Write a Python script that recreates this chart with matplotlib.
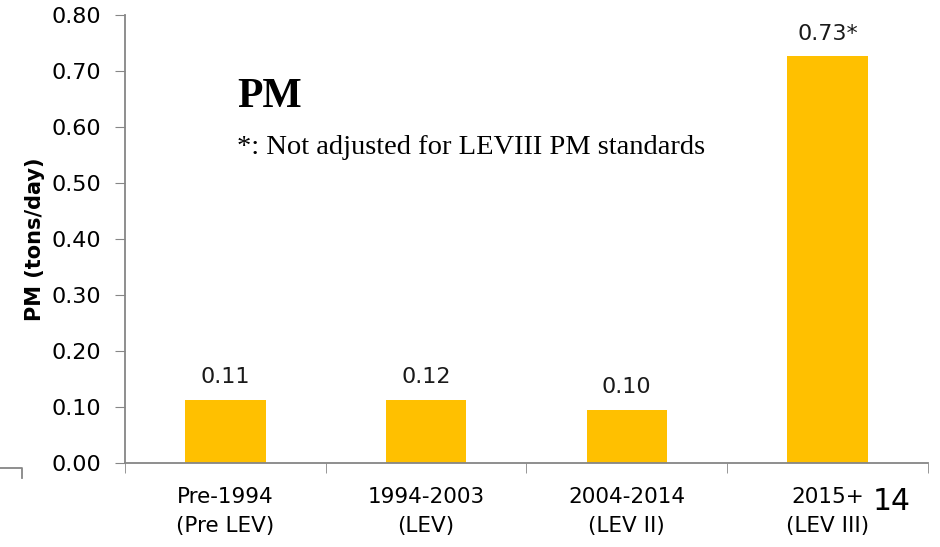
import matplotlib
matplotlib.use("Agg")
import matplotlib.pyplot as plt
from matplotlib.lines import Line2D

categories = ["Pre-1994\n(Pre LEV)", "1994-2003\n(LEV)", "2004-2014\n(LEV II)", "2015+\n(LEV III)"]
values = [0.113, 0.113, 0.095, 0.726]
value_labels = ["0.11", "0.12", "0.10", "0.73*"]
yticks = [0.0, 0.1, 0.2, 0.3, 0.4, 0.5, 0.6, 0.7, 0.8]

plt.rcParams["font.family"] = ["DejaVu Sans"]
gray = "#868686"

fig = plt.figure(figsize=(9.4, 5.47), dpi=100)
ax = fig.add_axes([0.133, 0.1536, 0.854, 0.819])

x = list(range(len(categories)))
ax.bar(x, values, width=0.4, color="#FFC000")

for xi, v, lab in zip(x, values, value_labels):
    ax.annotate(lab, (xi, v), xytext=(0, 9), textcoords="offset points",
                ha="center", va="bottom", fontsize=16, color="#1a1a1a")

ax.set_xlim(-0.5, len(categories) - 0.5)
ax.set_ylim(0, 0.8)
ax.set_yticks(yticks)
ax.set_yticklabels([f"{t:.2f}" for t in yticks], fontsize=16)
ax.set_xticks(x)
ax.set_xticklabels(categories, fontsize=15.5, linespacing=1.6)
ax.tick_params(axis="x", length=0, pad=17)
ax.set_xticks([i - 0.5 for i in range(len(categories) + 1)], minor=True)
ax.tick_params(axis="x", which="minor", length=7, color=gray, direction="out")
ax.tick_params(axis="y", length=7, color=gray, direction="out", pad=10)

for s in ["top", "right"]:
    ax.spines[s].set_visible(False)
for s in ["left", "bottom"]:
    ax.spines[s].set_color(gray)
    ax.spines[s].set_linewidth(1.3)

ax.set_ylabel("PM (tons/day)", fontsize=15, fontweight="bold", labelpad=5)

fig.text(0.252, 0.805, "PM", fontsize=30, fontweight="bold",
         family="Liberation Serif", va="baseline")
fig.text(0.252, 0.718, "*: Not adjusted for LEVIII PM standards", fontsize=20.5,
         family="Liberation Serif", va="baseline")
fig.text(0.949, 0.084, "14", fontsize=21.5, ha="center", va="center")

# leftover slide element at bottom left
fig.add_artist(Line2D([0.0, 0.023, 0.023], [1 - 468 / 547, 1 - 468 / 547, 1 - 478 / 547],
                      transform=fig.transFigure, color=gray, linewidth=1.3))

fig.savefig("out.png", dpi=100)
